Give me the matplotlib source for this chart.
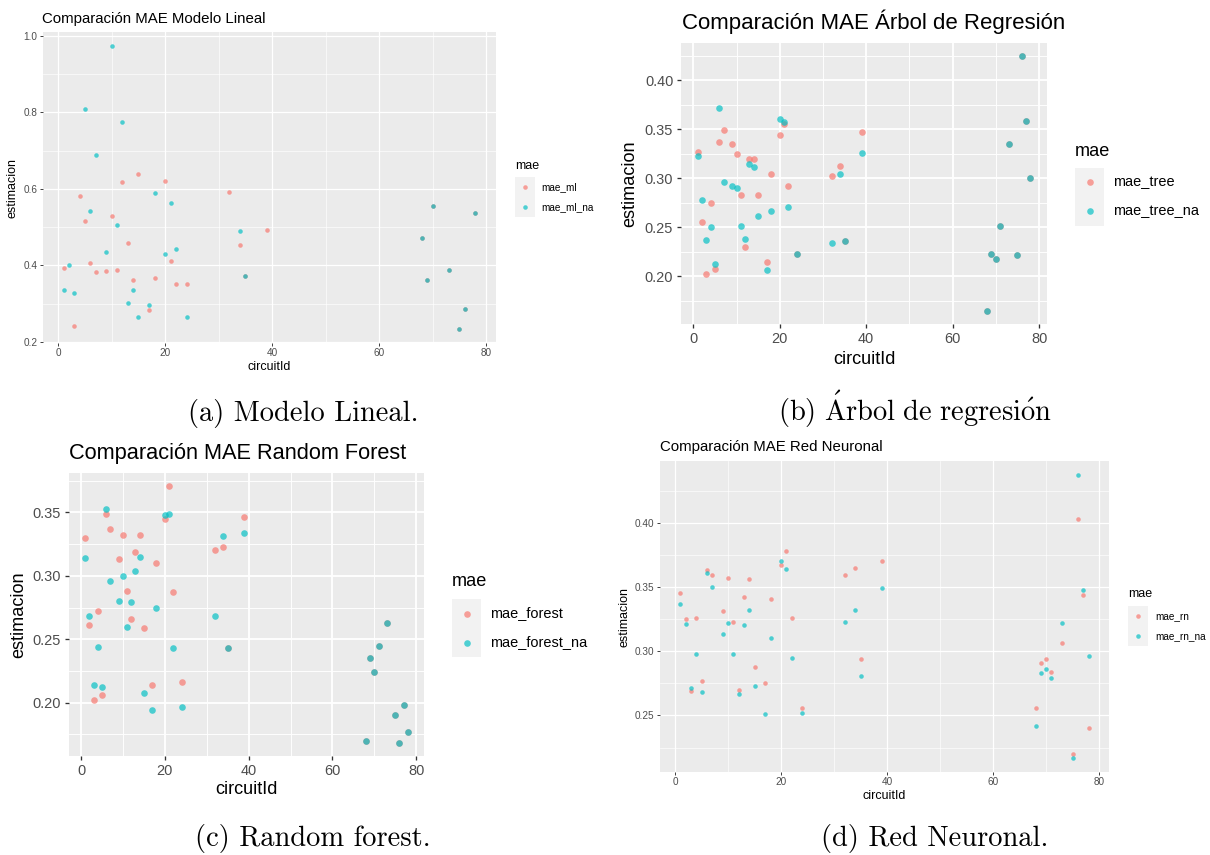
import matplotlib
matplotlib.use("Agg")
import matplotlib.pyplot as plt
from matplotlib.patches import Rectangle

W, H = 1210, 855

# circuit ids shared by panels b, c, d
CIRCUITS = [1, 2, 3, 4, 5, 6, 7, 9, 10, 11, 12, 13, 14, 15, 17, 18, 20, 21, 22, 24,
            32, 34, 35, 39, 68, 69, 70, 71, 73, 75, 76, 77, 78]

# (a) Modelo lineal
ML_IDS = [1, 3, 4, 5, 6, 7, 9, 10, 11, 12, 13, 14, 15, 17, 18, 20, 21, 22, 24,
          32, 34, 35, 39, 68, 69, 70, 73, 75, 76, 78]
ML_VALS = [0.394, 0.242, 0.581, 0.517, 0.407, 0.383, 0.385, 0.529, 0.387, 0.617,
           0.458, 0.362, 0.640, 0.282, 0.367, 0.620, 0.412, 0.352, 0.351,
           0.593, 0.453, 0.373, 0.492, 0.472, 0.362, 0.556, 0.387, 0.234, 0.286, 0.536]
ML_NA_IDS = [1, 2, 3, 5, 6, 7, 9, 10, 11, 12, 13, 14, 15, 17, 18, 20, 21, 22, 24,
             34, 35, 68, 69, 70, 73, 75, 76, 78]
ML_NA_VALS = [0.336, 0.400, 0.327, 0.808, 0.542, 0.688, 0.436, 0.973, 0.505, 0.774,
              0.302, 0.336, 0.266, 0.297, 0.589, 0.430, 0.564, 0.443, 0.264,
              0.491, 0.373, 0.472, 0.362, 0.556, 0.387, 0.234, 0.286, 0.536]

# (b) Arbol de regresion
TREE_VALS = [0.327, 0.255, 0.202, 0.275, 0.207, 0.337, 0.349, 0.335, 0.325, 0.283,
             0.230, 0.320, 0.320, 0.283, 0.214, 0.304, 0.344, 0.355, 0.292, 0.223,
             0.302, 0.312, 0.236, 0.347, 0.164, 0.222, 0.217, 0.251, 0.335, 0.221,
             0.425, 0.358, 0.300]
TREE_NA_VALS = [0.323, 0.278, 0.237, 0.250, 0.212, 0.372, 0.296, 0.292, 0.290, 0.251,
                0.238, 0.314, 0.311, 0.261, 0.206, 0.266, 0.360, 0.357, 0.270, 0.223,
                0.234, 0.304, 0.236, 0.326, 0.164, 0.222, 0.217, 0.251, 0.335, 0.221,
                0.425, 0.358, 0.300]

# (c) Random forest
FOREST_VALS = [0.330, 0.261, 0.202, 0.272, 0.206, 0.349, 0.337, 0.313, 0.332, 0.288,
               0.266, 0.319, 0.332, 0.259, 0.214, 0.310, 0.345, 0.371, 0.287, 0.216,
               0.320, 0.323, 0.243, 0.346, 0.170, 0.235, 0.224, 0.245, 0.263, 0.190,
               0.168, 0.198, 0.177]
FOREST_NA_VALS = [0.314, 0.268, 0.214, 0.244, 0.212, 0.353, 0.296, 0.280, 0.300, 0.260,
                  0.279, 0.304, 0.315, 0.208, 0.194, 0.275, 0.348, 0.349, 0.243, 0.197,
                  0.268, 0.331, 0.243, 0.334, 0.170, 0.235, 0.224, 0.245, 0.263, 0.190,
                  0.168, 0.198, 0.177]

# (d) Red neuronal
RN_VALS = [0.345, 0.325, 0.269, 0.326, 0.277, 0.363, 0.359, 0.331, 0.357, 0.323,
           0.270, 0.342, 0.356, 0.288, 0.275, 0.341, 0.367, 0.378, 0.326, 0.256,
           0.359, 0.365, 0.294, 0.370, 0.256, 0.291, 0.294, 0.284, 0.306, 0.220,
           0.403, 0.344, 0.240]
RN_NA_VALS = [0.337, 0.321, 0.271, 0.298, 0.268, 0.361, 0.350, 0.313, 0.322, 0.298,
              0.267, 0.320, 0.332, 0.273, 0.251, 0.310, 0.370, 0.364, 0.295, 0.252,
              0.323, 0.332, 0.281, 0.349, 0.242, 0.283, 0.286, 0.279, 0.322, 0.217,
              0.437, 0.348, 0.296]

RED = "#F8766D"
CYAN = "#00BFC4"
ALPHA = 0.68
SANS = "Liberation Sans"
SERIF = ["cmr10", "DejaVu Serif"]
plt.rcParams["mathtext.fontset"] = "cm"

PANELS = [
    dict(title="Comparación MAE Modelo Lineal", caption="(a) Modelo Lineal.",
         series=[(ML_IDS, ML_VALS, "mae_ml"), (ML_NA_IDS, ML_NA_VALS, "mae_ml_na")],
         box=(43, 32, 496, 343), ylim=(0.197, 1.010),
         yticks=[0.2, 0.4, 0.6, 0.8, 1.0], yminor=[0.3, 0.5, 0.7, 0.9], yfmt="{:.1f}",
         k=0.82, tk=1.0, title_xy=(42, 23), xlab_y=367, ylab_x=13,
         leg=dict(title_xy=(515, 166), box=(515, 177, 535, 217), lab_x=541),
         cap_xy=(303, 421)),
    dict(title="Comparación MAE Árbol de Regresión",
         caption=r"$\mathrm{(b)\ \acute{A}rbol\ de\ regresi\acute{o}n}$",
         series=[(CIRCUITS, TREE_VALS, "mae_tree"), (CIRCUITS, TREE_NA_VALS, "mae_tree_na")],
         box=(681, 43, 1047, 324), ylim=(0.151, 0.438),
         yticks=[0.20, 0.25, 0.30, 0.35, 0.40], yminor=[0.175, 0.225, 0.275, 0.325, 0.375, 0.425],
         yfmt="{:.2f}", k=1.19, tk=1.02, title_xy=(682, 29), xlab_y=360, ylab_x=630,
         leg=dict(title_xy=(1075, 152), box=(1075, 168, 1104, 226), lab_x=1113),
         cap_xy=(915, 421)),
    dict(title="Comparación MAE Random Forest", caption="(c) Random forest.",
         series=[(CIRCUITS, FOREST_VALS, "mae_forest"), (CIRCUITS, FOREST_NA_VALS, "mae_forest_na")],
         box=(69, 473, 424, 756), ylim=(0.158, 0.381),
         yticks=[0.20, 0.25, 0.30, 0.35], yminor=[0.175, 0.225, 0.275, 0.325, 0.375],
         yfmt="{:.2f}", k=1.19, tk=1.0, title_xy=(69, 459), xlab_y=790, ylab_x=19,
         leg=dict(title_xy=(452, 582), box=(452, 599, 481, 657), lab_x=490),
         cap_xy=(313, 846)),
    dict(title="Comparación MAE Red Neuronal", caption="(d) Red Neuronal.",
         series=[(CIRCUITS, RN_VALS, "mae_rn"), (CIRCUITS, RN_NA_VALS, "mae_rn_na")],
         box=(660, 461, 1109, 772), ylim=(0.206, 0.448),
         yticks=[0.25, 0.30, 0.35, 0.40], yminor=[0.225, 0.275, 0.325, 0.375, 0.425],
         yfmt="{:.2f}", k=0.82, tk=1.0, title_xy=(660, 451), xlab_y=796, ylab_x=624,
         leg=dict(title_xy=(1128, 594), box=(1128, 606, 1148, 646), lab_x=1155),
         cap_xy=(935, 846)),
]


def fx(px):
    return px / W


def fy(py):
    return 1 - py / H


def draw_panel(fig, p):
    x0, y0, x1, y1 = p["box"]
    k = p["k"]
    ax = fig.add_axes([fx(x0), fy(y1), (x1 - x0) / W, (y1 - y0) / H])
    ax.set_facecolor("#EBEBEB")
    for s in ax.spines.values():
        s.set_visible(False)
    ax.set_xlim(-2.85, 81.85)
    ax.set_ylim(*p["ylim"])
    ax.set_xticks([0, 20, 40, 60, 80])
    ax.set_xticks([10, 30, 50, 70], minor=True)
    ax.set_yticks(p["yticks"])
    ax.set_yticklabels([p["yfmt"].format(v) for v in p["yticks"]])
    ax.set_yticks(p["yminor"], minor=True)
    ax.grid(which="major", color="white", linewidth=1.1 * k)
    ax.grid(which="minor", color="white", linewidth=0.55 * k)
    ax.set_axisbelow(True)
    ax.tick_params(which="major", length=2.7 * k, width=0.8 * k, color="#333333",
                   labelsize=8.8 * k, labelcolor="#4D4D4D", pad=2.0 * k)
    ax.tick_params(which="minor", length=0)
    for lab in ax.get_xticklabels() + ax.get_yticklabels():
        lab.set_fontfamily(SANS)

    size = 16 * k * k
    for (ids, vals, _), col in zip(p["series"], [RED, CYAN]):
        ax.scatter(ids, vals, s=size, color=col, alpha=ALPHA, linewidths=0, zorder=3)

    fig.text(fx(p["title_xy"][0]), fy(p["title_xy"][1]), p["title"], family=SANS,
             fontsize=13.2 * k * p["tk"], ha="left", va="baseline")
    fig.text(fx((x0 + x1) / 2), fy(p["xlab_y"]), "circuitId", family=SANS,
             fontsize=11 * k, ha="center", va="center")
    fig.text(fx(p["ylab_x"]), fy((y0 + y1) / 2), "estimacion", family=SANS,
             fontsize=11 * k, ha="center", va="center", rotation=90)

    # legend
    lg = p["leg"]
    fig.text(fx(lg["title_xy"][0]), fy(lg["title_xy"][1]), "mae", family=SANS,
             fontsize=11 * k, ha="left", va="center")
    bx0, by0, bx1, by1 = lg["box"]
    fig.patches.append(Rectangle((fx(bx0), fy(by1)), (bx1 - bx0) / W, (by1 - by0) / H,
                                 transform=fig.transFigure, facecolor="#F2F2F2",
                                 edgecolor="none"))
    cx = (bx0 + bx1) / 2
    for i, ((_, _, name), col) in enumerate(zip(p["series"], [RED, CYAN])):
        cy = by0 + (by1 - by0) * (0.25 + 0.5 * i)
        fig.add_artist(plt.Line2D([fx(cx)], [fy(cy)], marker="o", linestyle="none",
                                  markersize=size ** 0.5, markeredgewidth=0,
                                  color=col, alpha=ALPHA, transform=fig.transFigure))
        fig.text(fx(lg["lab_x"]), fy(cy), name, family=SANS, fontsize=8.8 * k,
                 ha="left", va="center")

    fig.text(fx(p["cap_xy"][0]), fy(p["cap_xy"][1]), p["caption"], family=SERIF,
             fontsize=20.5, ha="center", va="baseline")


fig = plt.figure(figsize=(W / 100, H / 100), dpi=100)
for p in PANELS:
    draw_panel(fig, p)
fig.savefig("out.png", dpi=100)
